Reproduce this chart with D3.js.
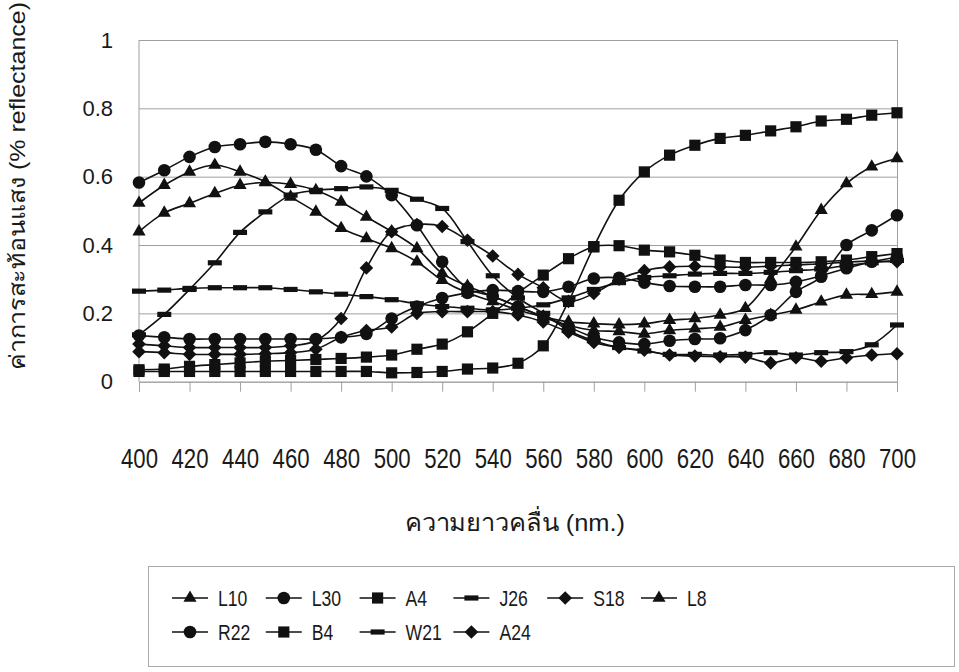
<!DOCTYPE html>
<html>
<head>
<meta charset="utf-8">
<script src="https://cdn.jsdelivr.net/npm/d3@7"></script>
<style>
  body { margin: 0; background: #fff; }
  svg { display: block; }
</style>
</head>
<body>
<svg id="chart" width="959" height="672"></svg>
<script>
// Wavelengths (nm) sampled every 10 nm
const wavelengths = [400, 410, 420, 430, 440, 450, 460, 470, 480, 490, 500,
  510, 520, 530, 540, 550, 560, 570, 580, 590, 600,
  610, 620, 630, 640, 650, 660, 670, 680, 690, 700];

const xTickLabels = [400, 420, 440, 460, 480, 500, 520, 540, 560, 580, 600, 620, 640, 660, 680, 700];
const yTickLabels = [0, 0.2, 0.4, 0.6, 0.8, 1];

// Reflectance of each sample
const L10 = [0.523, 0.575, 0.614, 0.634, 0.614, 0.585, 0.541, 0.497, 0.449, 0.419, 0.390,
  0.351, 0.297, 0.260, 0.235, 0.210, 0.190, 0.175, 0.170, 0.167, 0.170,
  0.180, 0.185, 0.195, 0.215, 0.300, 0.395, 0.502, 0.580, 0.629, 0.653];
const L30 = [0.583, 0.619, 0.658, 0.687, 0.695, 0.702, 0.695, 0.679, 0.631, 0.601, 0.546,
  0.458, 0.351, 0.273, 0.250, 0.220, 0.190, 0.160, 0.130, 0.115, 0.110,
  0.120, 0.125, 0.127, 0.151, 0.195, 0.263, 0.307, 0.400, 0.443, 0.487];
const A4 = [0.030, 0.030, 0.030, 0.030, 0.030, 0.030, 0.030, 0.030, 0.030, 0.030, 0.026,
  0.027, 0.030, 0.037, 0.040, 0.054, 0.105, 0.235, 0.395, 0.531, 0.614,
  0.663, 0.692, 0.712, 0.721, 0.734, 0.746, 0.763, 0.768, 0.780, 0.787];
const J26 = [0.137, 0.197, 0.270, 0.348, 0.437, 0.497, 0.546, 0.560, 0.565, 0.570, 0.560,
  0.534, 0.507, 0.410, 0.310, 0.245, 0.200, 0.150, 0.120, 0.100, 0.090,
  0.080, 0.080, 0.078, 0.080, 0.085, 0.078, 0.085, 0.088, 0.108, 0.166];
const S18 = [0.110, 0.105, 0.100, 0.100, 0.100, 0.100, 0.105, 0.120, 0.185, 0.333, 0.439,
  0.460, 0.454, 0.414, 0.368, 0.314, 0.275, 0.235, 0.258, 0.300, 0.325,
  0.336, 0.338, 0.336, 0.335, 0.338, 0.342, 0.345, 0.350, 0.353, 0.351];
const L8 = [0.439, 0.494, 0.522, 0.551, 0.575, 0.583, 0.578, 0.560, 0.526, 0.482, 0.439,
  0.390, 0.317, 0.280, 0.250, 0.220, 0.190, 0.165, 0.150, 0.147, 0.140,
  0.150, 0.155, 0.160, 0.180, 0.195, 0.210, 0.234, 0.254, 0.256, 0.263];
const R22 = [0.135, 0.130, 0.125, 0.125, 0.125, 0.125, 0.125, 0.125, 0.130, 0.140, 0.185,
  0.220, 0.245, 0.260, 0.268, 0.265, 0.263, 0.278, 0.302, 0.304, 0.290,
  0.280, 0.278, 0.278, 0.283, 0.283, 0.292, 0.310, 0.332, 0.351, 0.365];
const B4 = [0.035, 0.037, 0.045, 0.050, 0.055, 0.060, 0.062, 0.065, 0.068, 0.072, 0.078,
  0.095, 0.110, 0.146, 0.200, 0.260, 0.312, 0.360, 0.395, 0.398, 0.385,
  0.380, 0.370, 0.356, 0.349, 0.349, 0.349, 0.351, 0.356, 0.366, 0.375];
const W21 = [0.265, 0.268, 0.273, 0.275, 0.275, 0.275, 0.270, 0.263, 0.256, 0.249, 0.240,
  0.228, 0.220, 0.215, 0.210, 0.215, 0.225, 0.245, 0.270, 0.290, 0.305,
  0.310, 0.315, 0.317, 0.317, 0.320, 0.325, 0.330, 0.340, 0.348, 0.355];
const A24 = [0.088, 0.085, 0.080, 0.080, 0.080, 0.082, 0.085, 0.095, 0.130, 0.150, 0.160,
  0.200, 0.205, 0.205, 0.205, 0.195, 0.175, 0.145, 0.115, 0.100, 0.092,
  0.078, 0.075, 0.073, 0.072, 0.055, 0.070, 0.060, 0.070, 0.078, 0.082];

const seriesNames = ["L10", "L30", "A4", "J26", "S18", "L8", "R22", "B4", "W21", "A24"];
const seriesValues = [L10, L30, A4, J26, S18, L8, R22, B4, W21, A24];
const seriesMarkers = ["triangle", "circle", "square", "dash", "diamond",
                       "triangle", "circle", "square", "dash", "diamond"];

const svg = d3.select("#chart");
const plot = { left: 139, right: 897, top: 40, bottom: 381.7 };

const x = d3.scaleLinear().domain([400, 700]).range([plot.left, plot.right]);
const y = d3.scaleLinear().domain([0, 1]).range([plot.bottom, plot.top]);

const gridColor = "#a0a0a0";
const textColor = "#1a1a1a";
const narrowFont = "'Liberation Sans Narrow', 'Liberation Sans', Arial, sans-serif";
const regularFont = "'Liberation Sans', Arial, sans-serif";

// horizontal gridlines with short ticks on the left
const yAxis = svg.append("g")
  .attr("transform", `translate(${plot.left},0)`)
  .call(d3.axisLeft(y).tickValues(yTickLabels)
    .tickSize(10).tickFormat(d => d3.format("~g")(d)).tickPadding(16));
yAxis.select(".domain").remove();
yAxis.selectAll(".tick line").attr("stroke", gridColor).attr("x2", plot.right - plot.left);
yAxis.selectAll(".tick text")
  .attr("font-family", regularFont)
  .attr("font-size", 22).attr("fill", textColor);

// left and right frame lines
svg.append("line").attr("x1", plot.left).attr("x2", plot.left)
  .attr("y1", plot.top).attr("y2", plot.bottom).attr("stroke", gridColor);
svg.append("line").attr("x1", plot.right + 0.5).attr("x2", plot.right + 0.5)
  .attr("y1", plot.top).attr("y2", plot.bottom).attr("stroke", gridColor);

// x axis ticks and labels
const xAxis = svg.append("g")
  .attr("transform", `translate(0,${plot.bottom})`)
  .call(d3.axisBottom(x).tickValues(xTickLabels).tickSize(10).tickPadding(57));
xAxis.select(".domain").attr("stroke", gridColor);
xAxis.selectAll(".tick line").attr("stroke", gridColor);
xAxis.selectAll(".tick text")
  .attr("font-family", narrowFont)
  .attr("font-size", 27).attr("fill", textColor)
  .attr("textLength", 37).attr("lengthAdjust", "spacingAndGlyphs");

// axis titles
svg.append("text")
  .attr("transform", "translate(25,186) rotate(-90)")
  .attr("text-anchor", "middle")
  .attr("font-family", regularFont)
  .attr("font-size", 22).attr("fill", textColor)
  .attr("textLength", 368).attr("lengthAdjust", "spacingAndGlyphs")
  .text("ค่าการสะท้อนแสง (% reflectance)");

svg.append("text")
  .attr("x", 515).attr("y", 531)
  .attr("text-anchor", "middle")
  .attr("font-family", narrowFont)
  .attr("font-size", 24).attr("fill", textColor)
  .attr("textLength", 220).attr("lengthAdjust", "spacingAndGlyphs")
  .text("ความยาวคลื่น (nm.)");

// marker shapes
function markerPath(kind) {
  switch (kind) {
    case "triangle": return d3.symbol(d3.symbolTriangle, 75)();
    case "circle": return d3.symbol(d3.symbolCircle, 125)();
    case "square": return d3.symbol(d3.symbolSquare, 125)();
    case "diamond": return "M0,-6.8L6.8,0L0,6.8L-6.8,0Z";
    case "dash": return "M-7,-2.6H7V2.6H-7Z";
  }
}

const line = d3.line()
  .x((d, i) => x(wavelengths[i]))
  .y(d => y(d))
  .curve(d3.curveCatmullRom.alpha(0.5));

const seriesG = svg.append("g");
seriesValues.forEach((vals, si) => {
  const g = seriesG.append("g").attr("class", "series");
  g.append("path").attr("d", line(vals))
    .attr("fill", "none").attr("stroke", "#111").attr("stroke-width", 1.6);
  g.selectAll("path.m").data(vals).join("path")
    .attr("class", "m")
    .attr("transform", (d, i) => `translate(${x(wavelengths[i])},${y(d)})`)
    .attr("d", markerPath(seriesMarkers[si]))
    .attr("fill", "#111");
});

// legend
const legend = svg.append("g");
legend.append("rect")
  .attr("x", 148.5).attr("y", 566.5).attr("width", 806).attr("height", 100)
  .attr("fill", "#fff").attr("stroke", "#aaa");
const colStep = 93.8, col0 = 172, rowY = [598, 632];
seriesNames.forEach((name, i) => {
  const col = i % 6, row = Math.floor(i / 6);
  const lx = col0 + col * colStep, ly = rowY[row];
  const item = legend.append("g").attr("transform", `translate(${lx},${ly})`);
  item.append("line").attr("x1", 0).attr("x2", 36).attr("y1", 0).attr("y2", 0)
    .attr("stroke", "#111").attr("stroke-width", 1.6);
  item.append("path").attr("d", markerPath(seriesMarkers[i]))
    .attr("transform", "translate(18,0)").attr("fill", "#111");
  item.append("text")
    .attr("transform", "translate(46,8) scale(0.8,1)")
    .attr("font-family", narrowFont)
    .attr("font-size", 22).attr("fill", textColor)
    .text(name);
});
</script>
</body>
</html>
